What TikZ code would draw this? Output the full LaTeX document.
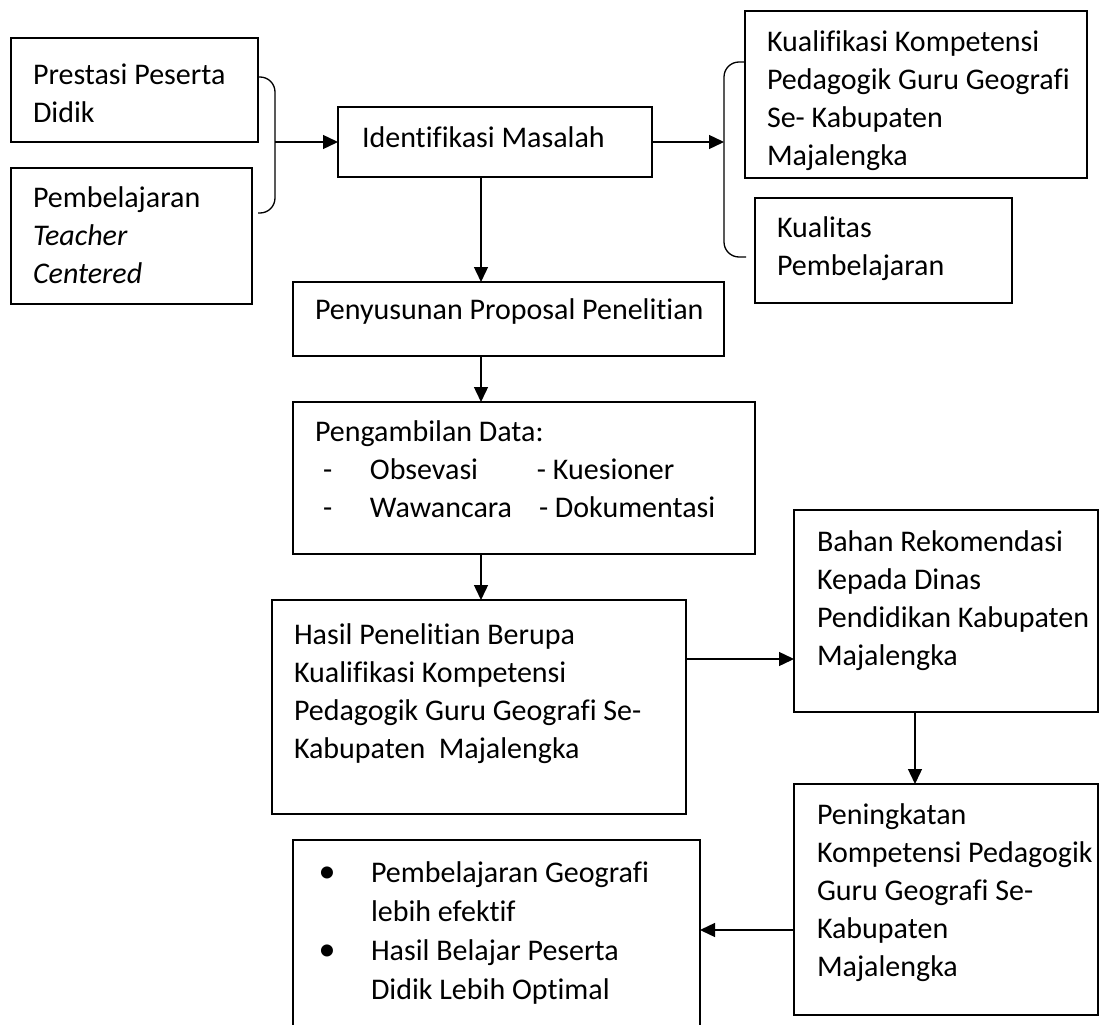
\documentclass[tikz,border=0pt]{standalone}
\usepackage{fontspec}
\setmainfont{Carlito}[Ligatures=CommonOff]
\usetikzlibrary{arrows.meta}
\begin{document}
\begin{tikzpicture}[x=1pt,y=-1pt,
  box/.style={draw, line width=1.3pt, anchor=north west, inner sep=0pt, outer sep=0pt},
  txt/.style={anchor=north west, inner sep=0pt, outer sep=0pt, align=left, font=\fontsize{30}{38}\selectfont},
  ln/.style={line width=1.3pt},
  arr/.style={line width=1.4pt, -{Triangle[length=15pt,width=14pt]}}]
\useasboundingbox (0,0) rectangle (1104,1025);

% boxes
\node[box, minimum width=247pt, minimum height=104pt] (A) at (11,38) {};
\node[box, minimum width=241pt, minimum height=136pt] (B) at (11,168) {};
\node[box, minimum width=314pt, minimum height=70pt] (C) at (338,107) {};
\node[box, minimum width=342pt, minimum height=167pt] (D) at (745,11) {};
\node[box, minimum width=257pt, minimum height=105pt] (E) at (755,198) {};
\node[box, minimum width=431pt, minimum height=74pt] (F) at (293,282) {};
\node[box, minimum width=462pt, minimum height=152pt] (G) at (293,402) {};
\node[box, minimum width=414pt, minimum height=214pt] (H) at (272,600) {};
\node[box, minimum width=304pt, minimum height=202pt] (I) at (794,510) {};
\node[box, minimum width=304pt, minimum height=231pt] (J) at (794,784) {};
\node[anchor=north west, inner sep=0pt, outer sep=0pt, minimum width=407pt, minimum height=190pt] (K) at (293,840) {};
\draw[ln] (K.south west) -- (K.north west) -- (K.north east) -- (K.south east);

% texts
\node[txt] (At) at (33,57.4) {\strut Prestasi Peserta\\Didik};
\node[txt] (Bt) at (33,180.4) {\strut Pembelajaran\\\textit{Teacher}\\\textit{Centered}};
\node[txt] (Ct) at (362,120.4) {\strut Identifikasi Masalah};
\node[txt] (Dt) at (767,24.4) {\strut Kualifikasi Kompetensi\\Pedagogik Guru Geografi\\Se- Kabupaten\\Majalengka};
\node[txt] (Et) at (777,210.4) {\strut Kualitas\\Pembelajaran};
\node[txt] (Ft) at (315,292.4) {\strut Penyusunan Proposal Penelitian};
\node[txt] (Gt) at (315,414.4) {\strut Pengambilan Data:\\
  \hspace*{8pt}\makebox[47pt][l]{-}\makebox[167pt][l]{Obsevasi}- Kuesioner\\
  \hspace*{8pt}\makebox[47pt][l]{-}\makebox[169pt][l]{Wawancara}- Dokumentasi};
\node[txt] (Ht) at (294,617.4) {\strut Hasil Penelitian Berupa\\Kualifikasi Kompetensi\\Pedagogik Guru Geografi Se-\\Kabupaten\ \ Majalengka};
\node[txt] (It) at (817,524.4) {\strut Bahan Rekomendasi\\Kepada Dinas\\Pendidikan Kabupaten\\Majalengka};
\node[txt] (Jt) at (817,797.4) {\strut Peningkatan\\Kompetensi Pedagogik\\Guru Geografi Se-\\Kabupaten\\Majalengka};
\node[txt, font=\fontsize{30}{39}\selectfont] (Kt) at (371,855.4) {\strut Pembelajaran Geografi\\lebih efektif\\Hasil Belajar Peserta\\Didik Lebih Optimal};
\node[anchor=base, inner sep=0pt, font=\fontsize{34}{39}\selectfont] (Kb1) at (327,882) {•};
\node[anchor=base, inner sep=0pt, font=\fontsize{34}{39}\selectfont] (Kb2) at (327,960) {•};

% braces
\draw[ln, rounded corners=15pt] (258,77) -- (275,77) -- (275,213) -- (258,213);
\draw[ln, rounded corners=15pt] (745,62) -- (724,62) -- (724,257) -- (746,257);
\coordinate (bl) at (275,142);
\coordinate (br) at (724,142);
\coordinate (vx) at (481,0);
\coordinate (hy) at (0,659);
\coordinate (jy) at (0,930);
\coordinate (ix) at (915,0);

% connectors
\draw[arr] (bl) -- (C.west);
\draw[arr] (C.east) -- (br);
\draw[arr] (vx |- C.south) -- (vx |- F.north);
\draw[arr] (vx |- F.south) -- (vx |- G.north);
\draw[arr] (vx |- G.south) -- (vx |- H.north);
\draw[arr] (H.east |- hy) -- (I.west |- hy);
\draw[arr] (ix |- I.south) -- (ix |- J.north);
\draw[arr] (J.west |- jy) -- (K.east |- jy);
\end{tikzpicture}
\end{document}
